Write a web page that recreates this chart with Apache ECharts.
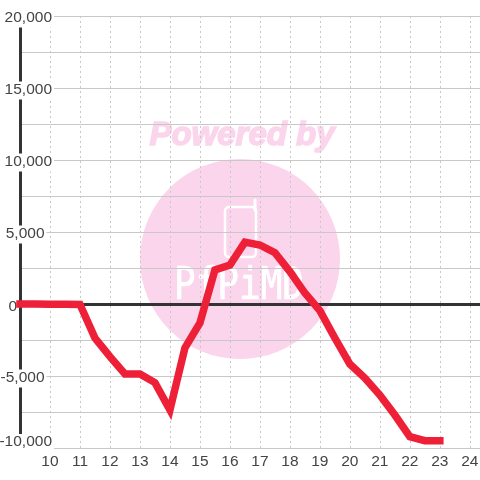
<!DOCTYPE html>
<html>
<head>
<meta charset="utf-8">
<style>html,body{margin:0;padding:0;background:#fff}#chart{width:480px;height:480px}</style>
<script src="https://cdn.jsdelivr.net/npm/echarts@6/dist/echarts.min.js"></script>
</head>
<body>
<div id="chart"></div>
<script>
// values
var hours = [9, 9.5, 10, 10.5, 11, 11.5, 12, 12.5, 13, 13.5, 14, 14.5, 15, 15.5, 16, 16.5, 17, 17.5, 18, 18.5, 19, 19.5, 20, 20.5, 21, 21.5, 22, 22.5, 23];
var values = [0, -5, -10, -20, -30, -2360, -3660, -4860, -4860, -5460, -7360, -3050, -1320, 2360, 2700, 4300, 4100, 3560, 2250, 760, -460, -2360, -4170, -5140, -6320, -7710, -9210, -9490, -9490];

var pink = '#fbd5ec';
var labelFont = '"Liberation Sans", Arial, sans-serif';
var labelSize = 15.5;

function yLabel(v) {
    if (v % 5000 !== 0) return '';
    if (v === 0) return '{zero|0}{zeroGap| }';
    var s = echarts.format.addCommas(v);
    if (v === -10000) return '{low|' + s + '}';
    return v >= 10000 ? '{wide|' + s + '}' : '{mid|' + s + '}{midGap| }';
}

var chart = echarts.init(document.getElementById('chart'), null, { renderer: 'canvas' });
chart.setOption({
    animation: false,
    backgroundColor: '#fff',
    grid: { left: 20, right: 0, top: 16, bottom: 32, outerBoundsMode: 'none' },
    // watermark sits under the grid lines
    graphic: [
        { type: 'circle', z: -10, shape: { cx: 240, cy: 259, r: 100 }, style: { fill: pink } },
        { type: 'text', z: -10, x: 242, y: 136, style: { text: 'Powered by', fill: pink, stroke: pink, lineWidth: 1.5, font: 'italic bold 33px "Liberation Sans"', align: 'center', verticalAlign: 'middle' } },
        { type: 'rect', z: -9, shape: { x: 225, y: 207, width: 31, height: 50, r: 4 }, style: { fill: 'none', stroke: '#fff', lineWidth: 2.5 } },
        { type: 'line', z: -9, shape: { x1: 255, y1: 200, x2: 255, y2: 210 }, style: { stroke: '#fff', lineWidth: 3, lineCap: 'round' } },
        { type: 'text', z: -9, x: 239, y: 288, scaleY: 1.22, style: { text: 'PfPiMD', fill: '#fff', stroke: '#fff', lineWidth: 0.6, font: '36px "DejaVu Sans Mono"', align: 'center', verticalAlign: 'middle' } }
    ],
    xAxis: {
        type: 'value',
        min: 9,
        max: 24.34,
        interval: 1,
        axisLine: { show: false, onZero: false },
        axisTick: { show: false },
        axisLabel: {
            showMinLabel: false,
            showMaxLabel: false,
            color: '#444',
            fontSize: labelSize,
            fontFamily: labelFont,
            margin: 6
        },
        splitLine: { show: true, lineStyle: { color: '#c8c8c8', type: [2, 3], width: 1 } }
    },
    yAxis: {
        type: 'value',
        min: -10000,
        max: 20000,
        interval: 2500,
        axisLine: { show: true, onZero: false, lineStyle: { color: '#333', width: 3 } },
        axisTick: { show: false },
        axisLabel: {
            inside: true,
            margin: 34,
            align: 'right',
            hideOverlap: false,
            verticalAlignMinLabel: 'bottom',
            padding: [5, 0, 0, 0],
            color: '#444',
            fontSize: labelSize,
            fontFamily: labelFont,
            formatter: yLabel,
            rich: {
                wide: { fontSize: labelSize, fontFamily: labelFont, color: '#444', backgroundColor: '#fff', padding: [0, 2, 2, 2] },
                low: { fontSize: labelSize, fontFamily: labelFont, color: '#444', backgroundColor: '#fff', lineHeight: 12, padding: [0, 2, 0, 2] },
                mid: { fontSize: labelSize, fontFamily: labelFont, color: '#444', backgroundColor: '#fff', padding: [0, 2, 2, 2] },
                midGap: { width: 7.5 },
                zero: { fontSize: labelSize, fontFamily: labelFont, color: '#444' },
                zeroGap: { width: 37 }
            }
        },
        splitLine: { show: true, lineStyle: { color: '#c8c8c8', width: 1 } }
    },
    series: [{
        type: 'line',
        data: hours.map(function (h, i) { return [h, values[i]]; }),
        showSymbol: false,
        symbol: 'none',
        clip: false,
        z: 5,
        lineStyle: { color: '#ee2038', width: 7.5, cap: 'square', join: 'miter' },
        markLine: {
            silent: true,
            symbol: 'none',
            label: { show: false },
            animation: false,
            z: 3,
            lineStyle: { color: '#333', type: 'solid', width: 3 },
            data: [{ yAxis: 0 }]
        }
    }]
});
</script>
</body>
</html>
